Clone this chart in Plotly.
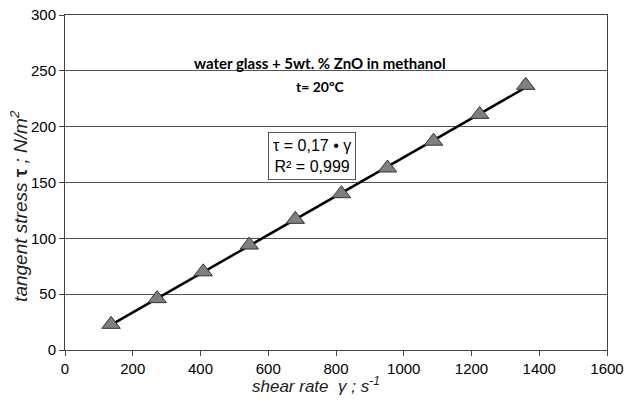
import numpy as np
import plotly.graph_objects as go

shear_rate = [136, 272, 408, 544, 680, 816, 952, 1088, 1224, 1360]
tangent_stress = [23, 46, 70, 94, 117, 140, 163, 187, 211, 237]
x_ticks = [0, 200, 400, 600, 800, 1000, 1200, 1400, 1600]
y_ticks = [0, 50, 100, 150, 200, 250, 300]

slope, intercept = np.polyfit(shear_rate, tangent_stress, 1)
fit_x = [shear_rate[0], shear_rate[-1]]
fit_y = [slope * v + intercept for v in fit_x]

fig = go.Figure()
fig.add_trace(go.Scatter(x=fit_x, y=fit_y, mode="lines",
                         line=dict(color="black", width=2.5), showlegend=False))
fig.add_trace(go.Scatter(x=shear_rate, y=tangent_stress, mode="markers",
                         marker=dict(symbol="triangle-up", size=16, color="#7f7f7f",
                                     line=dict(color="#333333", width=1)),
                         showlegend=False))

fig.add_annotation(x=753, y=250, xref="x", yref="y",
                   text="<b>water glass + 5wt. % ZnO in methanol</b>", showarrow=False,
                   font=dict(family="Lato", size=15, color="black"), yanchor="bottom", yshift=-3)
fig.add_annotation(x=753, y=236, xref="x", yref="y",
                   text="<b>t= 20ºC</b>", showarrow=False,
                   font=dict(family="Lato", size=14, color="black"))
fig.add_annotation(x=728, y=174, xref="x", yref="y",
                   text="τ = 0,17 • γ<br>R² = 0,999", showarrow=False,
                   font=dict(family="Liberation Sans", size=16, color="black"),
                   bordercolor="#555555", borderwidth=1, borderpad=4, bgcolor="white")
fig.add_annotation(x=-0.085, y=0.43, xref="paper", yref="paper", textangle=-90,
                   xanchor="center", yanchor="middle",
                   text="<i>tangent stress</i> <b>τ</b> <i>; N/m<sup>2</sup></i>",
                   showarrow=False, font=dict(family="Liberation Sans", size=19, color="#222222"))
fig.add_annotation(x=0.463, y=-0.105, xref="paper", yref="paper",
                   xanchor="center", yanchor="middle",
                   text="<i>shear rate</i>  <i>γ</i> <i>; s<sup>-1</sup></i>",
                   showarrow=False, font=dict(family="Liberation Sans", size=17, color="#222222"))

fig.update_layout(
    width=624, height=414,
    margin=dict(l=65, r=17, t=15, b=64),
    paper_bgcolor="white", plot_bgcolor="white",
    font=dict(family="Liberation Sans", size=15, color="black"),
    xaxis=dict(range=[0, 1600], tickvals=x_ticks, showgrid=False, automargin=False,
               showline=True, linecolor="#444444", linewidth=1, mirror=True,
               ticks="outside", ticklen=5, tickcolor="#444444", zeroline=False),
    yaxis=dict(range=[0, 300], tickvals=y_ticks, showgrid=True, automargin=False,
               gridcolor="#555555", gridwidth=1,
               showline=True, linecolor="#444444", linewidth=1, mirror=True,
               ticks="outside", ticklen=5, tickcolor="#444444", zeroline=False),
)

fig.write_html("out.html", config={"displayModeBar": False},
               post_script="document.body.style.margin='0';")
